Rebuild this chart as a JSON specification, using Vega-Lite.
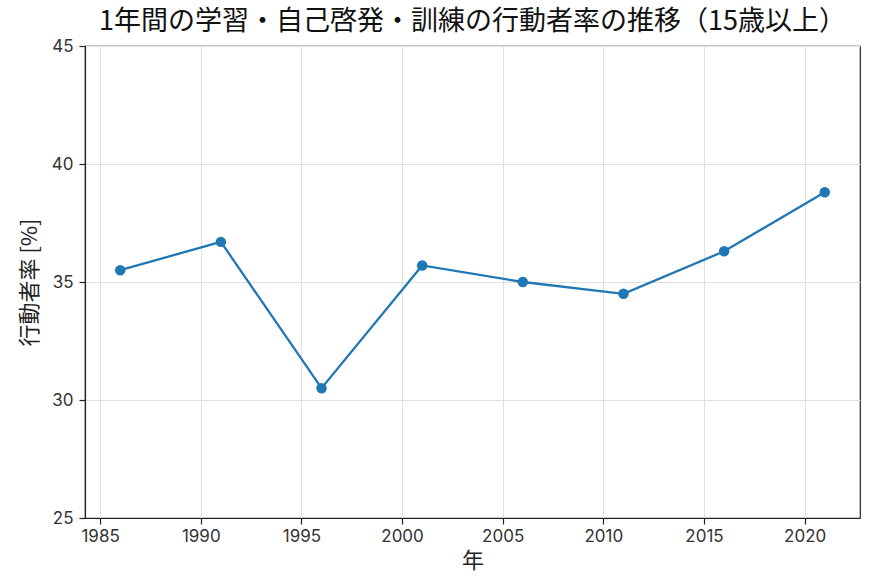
{
  "$schema": "https://vega.github.io/schema/vega-lite/v6.json",
  "width": 775,
  "height": 472,
  "autosize": {"type": "none"},
  "padding": {"left": 85, "top": 46, "right": 16, "bottom": 65},
  "background": "white",
  "title": {
    "text": "1年間の学習・自己啓発・訓練の行動者率の推移（15歳以上）",
    "font": "Noto Sans CJK JP",
    "fontSize": 27,
    "fontWeight": "normal",
    "color": "#111111",
    "anchor": "middle",
    "offset": 1
  },
  "config": {
    "view": {"stroke": "#222222", "strokeWidth": 1.2},
    "axis": {
      "labelFont": "Inter",
      "titleFont": "Noto Sans CJK JP",
      "labelFontSize": 17,
      "titleFontSize": 22,
      "titleFontWeight": "normal",
      "labelColor": "#333333",
      "titleColor": "#222222",
      "domainColor": "#222222",
      "domainWidth": 1.2,
      "tickColor": "#222222",
      "tickSize": 6,
      "tickWidth": 1.2,
      "gridColor": "#e0e0e0",
      "gridWidth": 1
    }
  },
  "data": {
    "values": [
      {"year": 1986, "rate": 35.5},
      {"year": 1991, "rate": 36.7},
      {"year": 1996, "rate": 30.5},
      {"year": 2001, "rate": 35.7},
      {"year": 2006, "rate": 35.0},
      {"year": 2011, "rate": 34.5},
      {"year": 2016, "rate": 36.3},
      {"year": 2021, "rate": 38.8}
    ]
  },
  "encoding": {
    "x": {
      "field": "year",
      "type": "quantitative",
      "scale": {"domain": [1984.25, 2022.75], "nice": false, "zero": false},
      "axis": {
        "title": "年",
        "values": [1985, 1990, 1995, 2000, 2005, 2010, 2015, 2020],
        "format": "d",
        "labelPadding": 4,
        "titlePadding": 6
      }
    },
    "y": {
      "field": "rate",
      "type": "quantitative",
      "scale": {"domain": [25, 45], "nice": false, "zero": false},
      "axis": {
        "title": "行動者率 [%]",
        "values": [25, 30, 35, 40, 45],
        "labelPadding": 6,
        "titlePadding": 10
      }
    }
  },
  "layer": [
    {
      "mark": {"type": "line", "color": "#1f77b4", "strokeWidth": 2.3}
    },
    {
      "mark": {"type": "circle", "color": "#1f77b4", "size": 110, "opacity": 1}
    }
  ]
}
